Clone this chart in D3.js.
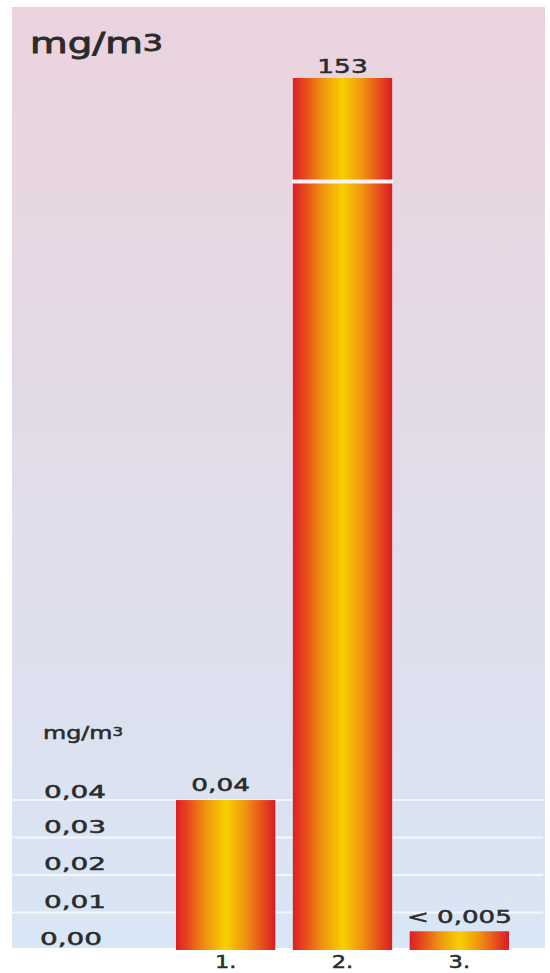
<!DOCTYPE html>
<html>
<head>
<meta charset="utf-8">
<script src="https://cdn.jsdelivr.net/npm/d3@7"></script>
<style>
  html, body { margin: 0; padding: 0; background: #ffffff; }
  svg { display: block; }
  text { font-family: "DejaVu Sans", sans-serif; fill: #2b2b2b; stroke: #2b2b2b; stroke-width: 0.5px; }
</style>
</head>
<body>
<svg id="chart" width="550" height="973"></svg>
<script>
// ---- data ----
const categories = ["1.", "2.", "3."];
const values = [0.04, 153, 0.005];
const valueLabels = ["0,04", "153", "< 0,005"];
const tickValues = [0.00, 0.01, 0.02, 0.03, 0.04];
const tickLabels = ["0,00", "0,01", "0,02", "0,03", "0,04"];
const unitLabel = "mg/m";
const unitSup = "3";
const breakValue = 0.205; // axis break on bar 2

// ---- layout ----
const panel = { x: 12, y: 7, w: 533, h: 941 };
const svg = d3.select("#chart");
const defs = svg.append("defs");

const bg = defs.append("linearGradient").attr("id", "bg")
  .attr("x1", 0).attr("y1", 0).attr("x2", 0).attr("y2", 1);
bg.append("stop").attr("offset", "0%").attr("stop-color", "#ead3de");
bg.append("stop").attr("offset", "45%").attr("stop-color", "#e3dbe8");
bg.append("stop").attr("offset", "100%").attr("stop-color", "#d8e6f5");

const bar = defs.append("linearGradient").attr("id", "barGrad")
  .attr("x1", 0).attr("y1", 0).attr("x2", 1).attr("y2", 0);
[["0%", "#dc1f26"], ["12%", "#e6481d"], ["30%", "#f09410"], ["50%", "#f7d000"],
 ["70%", "#f09410"], ["88%", "#e6481d"], ["100%", "#d81d24"]]
  .forEach(([o, c]) => bar.append("stop").attr("offset", o).attr("stop-color", c));

svg.append("rect")
  .attr("x", panel.x).attr("y", panel.y)
  .attr("width", panel.w).attr("height", panel.h)
  .attr("fill", "url(#bg)");

// scales
const x = d3.scaleBand().domain(categories).range([176, 509]).paddingInner(0.15).paddingOuter(0);
const y = d3.scaleLinear().domain([0, breakValue, 153]).range([950, 181.5, 78]);

// gridlines
svg.append("g").selectAll("line")
  .data(tickValues.filter(d => d > 0))
  .join("line")
  .attr("x1", 10).attr("x2", 543)
  .attr("y1", d => y(d)).attr("y2", d => y(d))
  .attr("stroke", "#f4f7fb").attr("stroke-width", 2);

// text helper (horizontally stretched to mimic the wide geometric face)
function label(xp, yp, str, size, sx, anchor) {
  const g = svg.append("g").attr("transform", `translate(${xp},${yp}) scale(${sx},1)`);
  return g.append("text").attr("x", 0).attr("y", 0)
    .attr("text-anchor", anchor).style("font-size", size + "px").text(str);
}

// bars
svg.append("g").selectAll("rect")
  .data(values)
  .join("rect")
  .attr("x", (d, i) => x(categories[i]))
  .attr("width", x.bandwidth())
  .attr("y", d => y(d))
  .attr("height", d => y(0) - y(d))
  .attr("fill", "url(#barGrad)");

// break on bar 2
svg.append("rect")
  .attr("x", x(categories[1]) - 1).attr("width", x.bandwidth() + 2)
  .attr("y", y(breakValue) - 2).attr("height", 4)
  .attr("fill", "#f8f3f6");

// value labels
const valueOffsets = [9, 5, 8];
values.forEach((v, i) => {
  const sizes = [17, 20, 18], sxs = [1.55, 1.32, 1.45];
  label(x(categories[i]) + x.bandwidth() / 2 - (i === 0 ? 5 : 0), y(v) - valueOffsets[i],
        valueLabels[i], sizes[i], sxs[i], "middle");
});

// category labels
categories.forEach(c => {
  label(x(c) + x.bandwidth() / 2, 968, c, 18, 1.25, "middle");
});

// tick labels
tickValues.forEach((t, i) => {
  label(t === 0 ? 40 : 44, y(t) - (t === 0.04 ? 2 : 5), tickLabels[i], 18, 1.55, "start");
});

// unit labels
const u1 = label(30, 53, unitLabel, 28, 1.38, "start").style("stroke-width", "0.9px");
u1.append("tspan").attr("dy", -2).style("font-size", "23px").text(unitSup);
const u2 = label(43, 739, unitLabel, 17, 1.4, "start");
u2.append("tspan").attr("dy", -3).style("font-size", "12px").text(unitSup);
</script>
</body>
</html>
